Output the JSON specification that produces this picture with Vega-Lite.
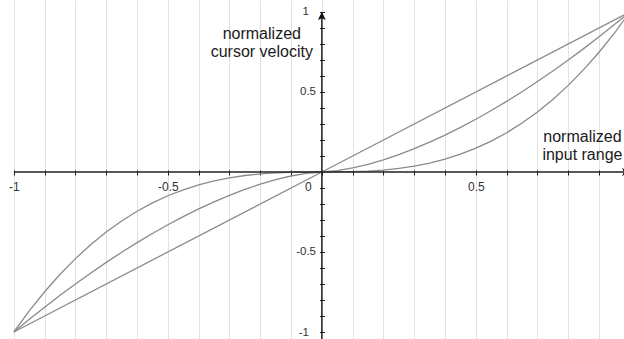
{
  "$schema": "https://vega.github.io/schema/vega-lite/v6.json",
  "width": 624,
  "height": 339,
  "padding": 0,
  "autosize": {"type": "none"},
  "background": "white",
  "config": {"view": {"stroke": null}},
  "datasets": {
    "curves": [
      {"x": -1, "y": -1, "s": "lin"}, {"x": 0, "y": 0, "s": "lin"}, {"x": 1, "y": 1, "s": "lin"},
      {"x": -1, "y": -1, "s": "mid"}, {"x": -0.95, "y": -0.9212, "s": "mid"}, {"x": -0.9, "y": -0.8449, "s": "mid"}, {"x": -0.85, "y": -0.7711, "s": "mid"}, {"x": -0.8, "y": -0.6998, "s": "mid"}, {"x": -0.75, "y": -0.6311, "s": "mid"}, {"x": -0.7, "y": -0.5651, "s": "mid"}, {"x": -0.65, "y": -0.5019, "s": "mid"}, {"x": -0.6, "y": -0.4416, "s": "mid"}, {"x": -0.55, "y": -0.3842, "s": "mid"}, {"x": -0.5, "y": -0.3299, "s": "mid"}, {"x": -0.45, "y": -0.2787, "s": "mid"}, {"x": -0.4, "y": -0.2308, "s": "mid"}, {"x": -0.35, "y": -0.1864, "s": "mid"}, {"x": -0.3, "y": -0.1457, "s": "mid"}, {"x": -0.25, "y": -0.1088, "s": "mid"}, {"x": -0.2, "y": -0.0761, "s": "mid"}, {"x": -0.15, "y": -0.0481, "s": "mid"}, {"x": -0.1, "y": -0.0251, "s": "mid"}, {"x": -0.05, "y": -0.0083, "s": "mid"}, {"x": 0, "y": 0, "s": "mid"}, {"x": 0.05, "y": 0.0083, "s": "mid"}, {"x": 0.1, "y": 0.0251, "s": "mid"}, {"x": 0.15, "y": 0.0481, "s": "mid"}, {"x": 0.2, "y": 0.0761, "s": "mid"}, {"x": 0.25, "y": 0.1088, "s": "mid"}, {"x": 0.3, "y": 0.1457, "s": "mid"}, {"x": 0.35, "y": 0.1864, "s": "mid"}, {"x": 0.4, "y": 0.2308, "s": "mid"}, {"x": 0.45, "y": 0.2787, "s": "mid"}, {"x": 0.5, "y": 0.3299, "s": "mid"}, {"x": 0.55, "y": 0.3842, "s": "mid"}, {"x": 0.6, "y": 0.4416, "s": "mid"}, {"x": 0.65, "y": 0.5019, "s": "mid"}, {"x": 0.7, "y": 0.5651, "s": "mid"}, {"x": 0.75, "y": 0.6311, "s": "mid"}, {"x": 0.8, "y": 0.6998, "s": "mid"}, {"x": 0.85, "y": 0.7711, "s": "mid"}, {"x": 0.9, "y": 0.8449, "s": "mid"}, {"x": 0.95, "y": 0.9212, "s": "mid"}, {"x": 1, "y": 1, "s": "mid"},
      {"x": -1, "y": -1, "s": "cub"}, {"x": -0.95, "y": -0.8684, "s": "cub"}, {"x": -0.9, "y": -0.7485, "s": "cub"}, {"x": -0.85, "y": -0.6396, "s": "cub"}, {"x": -0.8, "y": -0.5414, "s": "cub"}, {"x": -0.75, "y": -0.4533, "s": "cub"}, {"x": -0.7, "y": -0.375, "s": "cub"}, {"x": -0.65, "y": -0.3059, "s": "cub"}, {"x": -0.6, "y": -0.2454, "s": "cub"}, {"x": -0.55, "y": -0.1932, "s": "cub"}, {"x": -0.5, "y": -0.1487, "s": "cub"}, {"x": -0.45, "y": -0.1113, "s": "cub"}, {"x": -0.4, "y": -0.0805, "s": "cub"}, {"x": -0.35, "y": -0.0557, "s": "cub"}, {"x": -0.3, "y": -0.0365, "s": "cub"}, {"x": -0.25, "y": -0.0221, "s": "cub"}, {"x": -0.2, "y": -0.012, "s": "cub"}, {"x": -0.15, "y": -0.0054, "s": "cub"}, {"x": -0.1, "y": -0.0018, "s": "cub"}, {"x": -0.05, "y": -0.0003, "s": "cub"}, {"x": 0, "y": 0, "s": "cub"}, {"x": 0.05, "y": 0.0003, "s": "cub"}, {"x": 0.1, "y": 0.0018, "s": "cub"}, {"x": 0.15, "y": 0.0054, "s": "cub"}, {"x": 0.2, "y": 0.012, "s": "cub"}, {"x": 0.25, "y": 0.0221, "s": "cub"}, {"x": 0.3, "y": 0.0365, "s": "cub"}, {"x": 0.35, "y": 0.0557, "s": "cub"}, {"x": 0.4, "y": 0.0805, "s": "cub"}, {"x": 0.45, "y": 0.1113, "s": "cub"}, {"x": 0.5, "y": 0.1487, "s": "cub"}, {"x": 0.55, "y": 0.1932, "s": "cub"}, {"x": 0.6, "y": 0.2454, "s": "cub"}, {"x": 0.65, "y": 0.3059, "s": "cub"}, {"x": 0.7, "y": 0.375, "s": "cub"}, {"x": 0.75, "y": 0.4533, "s": "cub"}, {"x": 0.8, "y": 0.5414, "s": "cub"}, {"x": 0.85, "y": 0.6396, "s": "cub"}, {"x": 0.9, "y": 0.7485, "s": "cub"}, {"x": 0.95, "y": 0.8684, "s": "cub"}, {"x": 1, "y": 1, "s": "cub"}
    ],
    "axislines": [
      {"x": -1, "x2": 1.05, "y": 0, "y2": 0},
      {"x": 0, "x2": 0, "y": -1.1, "y2": 0.99}
    ],
    "uparrow": [{"x": 0, "y": 0.969}],
    "rightarrow": [{"x": 0.985, "y": 0}],
    "titles": [
      {"x": -0.195, "y": 0.829, "t": "normalized"},
      {"x": -0.195, "y": 0.719, "t": "cursor velocity"},
      {"x": 0.846, "y": 0.189, "t": "normalized"},
      {"x": 0.846, "y": 0.075, "t": "input range"}
    ]
  },
  "encoding": {
    "x": {
      "field": "x", "type": "quantitative",
      "scale": {"domain": [-1.045, 0.981], "nice": false, "zero": false},
      "axis": {
        "title": null,
        "values": [-1, -0.9, -0.8, -0.7, -0.6, -0.5, -0.4, -0.3, -0.2, -0.1, 0, 0.1, 0.2, 0.3, 0.4, 0.5, 0.6, 0.7, 0.8, 0.9],
        "grid": true, "gridColor": "#e2e2e2", "gridWidth": 1,
        "domain": false,
        "offset": -169,
        "tickSize": 5, "tickColor": "#222", "tickWidth": 1,
        "labelExpr": "datum.value==-1?'-1':datum.value==-0.5?'-0.5':datum.value==0?'0':datum.value==0.5?'0.5':''",
        "labelFont": "Liberation Sans", "labelFontSize": 12, "labelColor": "#333",
        "labelBaseline": "top", "labelPadding": 6,
        "labelOffset": {"condition": {"test": "datum.value==0", "value": -14}, "value": 0},
        "labelFlush": false, "labelOverlap": false
      }
    },
    "y": {
      "field": "y", "type": "quantitative",
      "scale": {"domain": [-1.044, 1.075], "nice": false, "zero": false},
      "axis": {
        "title": null,
        "values": [-1, -0.9, -0.8, -0.7, -0.6, -0.5, -0.4, -0.3, -0.2, -0.1, 0, 0.1, 0.2, 0.3, 0.4, 0.5, 0.6, 0.7, 0.8, 0.9, 1],
        "grid": false,
        "domain": false,
        "offset": -324.5,
        "tickSize": 5, "tickColor": "#222", "tickWidth": 1,
        "labelExpr": "datum.value==1?'1':datum.value==0.5?'0.5':datum.value==-0.5?'-0.5':datum.value==-1?'-1':''",
        "labelFont": "Liberation Sans", "labelFontSize": 11.5, "labelColor": "#333",
        "labelPadding": {"condition": {"test": "datum.value==1 || datum.value==-1", "value": 11}, "value": 4},
        "labelOffset": {"condition": {"test": "datum.value==-1", "value": 1}, "value": 0},
        "labelFlush": false, "labelOverlap": false
      }
    }
  },
  "layer": [
    {
      "data": {"name": "curves"},
      "mark": {"type": "line", "color": "#8a8a8a", "strokeWidth": 1.3, "clip": true},
      "encoding": {
        "detail": {"field": "s"}
      }
    },
    {
      "data": {"name": "axislines"},
      "mark": {"type": "rule", "color": "#222", "strokeWidth": 1.5, "clip": true},
      "encoding": {
        "x2": {"field": "x2"},
        "y2": {"field": "y2"}
      }
    },
    {
      "data": {"name": "uparrow"},
      "mark": {"type": "point", "filled": true, "opacity": 1, "color": "#111", "size": 108, "shape": "M0,-1L0.75,0.6L0,0.25L-0.75,0.6Z"},
      "encoding": {}
    },
    {
      "data": {"name": "rightarrow"},
      "mark": {"type": "point", "filled": true, "opacity": 1, "color": "#111", "size": 108, "angle": 90, "shape": "M0,-1L0.75,0.6L0,0.25L-0.75,0.6Z"},
      "encoding": {}
    },
    {
      "data": {"name": "titles"},
      "mark": {"type": "text", "align": "center", "baseline": "alphabetic", "font": "Liberation Sans", "fontSize": 16, "color": "#1a1a1a"},
      "encoding": {
        "text": {"field": "t"}
      }
    }
  ]
}
